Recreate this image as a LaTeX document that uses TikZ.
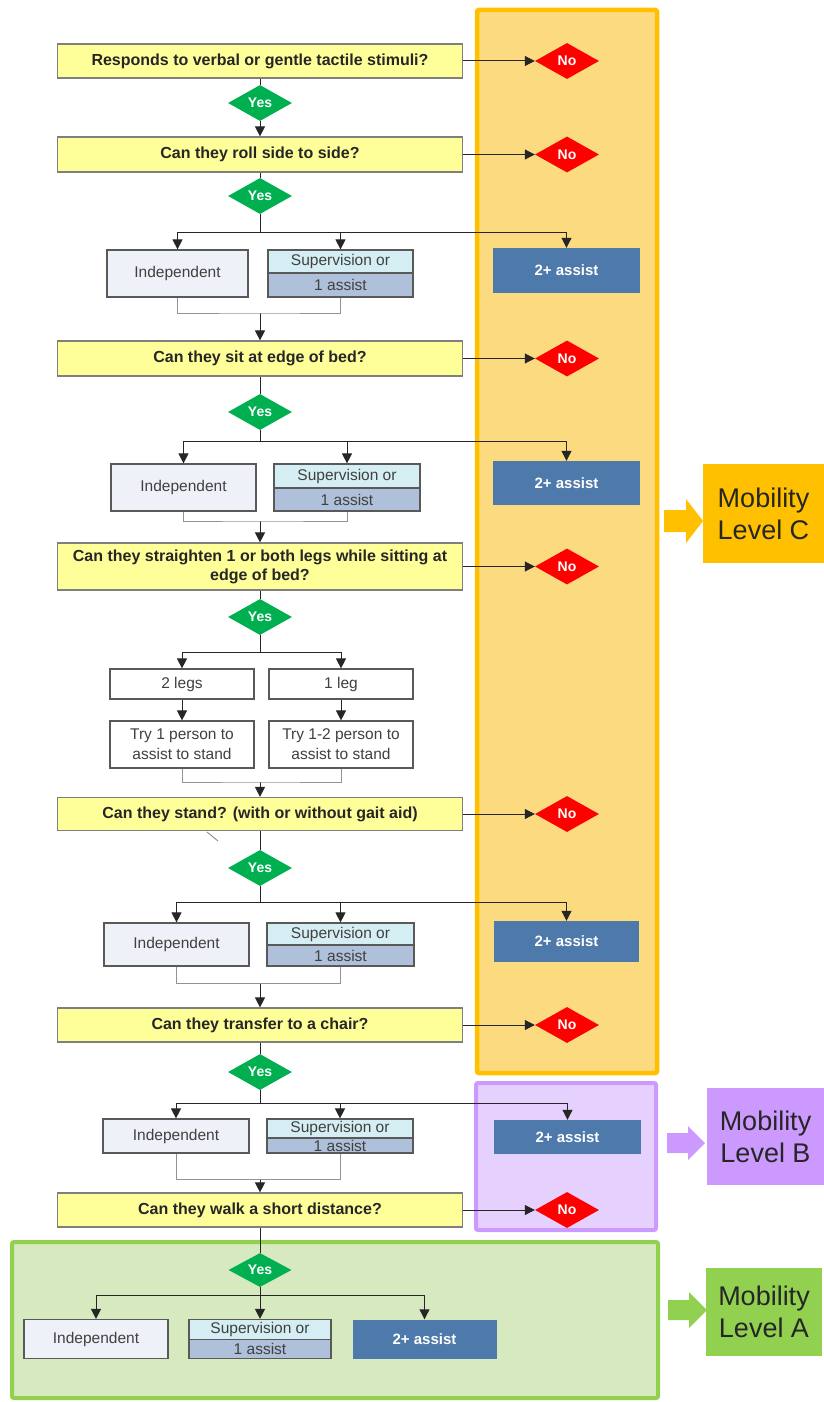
\documentclass[tikz,border=0pt]{standalone}
\usepackage{fontspec}
\setmainfont{Liberation Sans}
\usetikzlibrary{shapes.geometric,arrows.meta}
\definecolor{qfill}{HTML}{FFFF99}
\definecolor{qline}{HTML}{7F7F7F}
\definecolor{boxline}{HTML}{595959}
\definecolor{yesgreen}{HTML}{00B050}
\definecolor{nored}{HTML}{FF0000}
\definecolor{indfill}{HTML}{EEF1F7}
\definecolor{suptop}{HTML}{D5EEF3}
\definecolor{supbot}{HTML}{AFC0DA}
\definecolor{assistblue}{HTML}{4E79AB}
\definecolor{lvlC}{HTML}{FFC000}
\definecolor{lvlCfill}{HTML}{FCDA80}
\definecolor{lvlB}{HTML}{CC99FF}
\definecolor{lvlBfill}{HTML}{E6D0FE}
\definecolor{lvlA}{HTML}{92D050}
\definecolor{lvlAfill}{HTML}{D7E9BE}
\begin{document}
\begin{tikzpicture}[x=1pt,y=-1pt,
    question node/.style={rectangle,draw=qline,fill=qfill,line width=1.2pt,minimum width=405pt,minimum height=34pt,inner sep=2pt,align=center,text=black!85,font=\bfseries\fontsize{16}{19}\selectfont},
    yes node/.style={diamond,fill=yesgreen,minimum width=64pt,minimum height=36pt,inner sep=0pt,aspect=1.8,text=white,font=\bfseries\fontsize{14}{16}\selectfont},
    no node/.style={yes node,fill=nored},
    ind node/.style={rectangle,draw=boxline,fill=indfill,line width=1.2pt,minimum width=145pt,minimum height=47pt,inner sep=0pt,text=black!75,font=\fontsize{15.5}{18}\selectfont},
    sup top/.style={ind node,fill=suptop,minimum height=23pt},
    sup bottom/.style={ind node,fill=supbot,minimum height=23pt},
    leg node/.style={ind node,fill=white,align=center,font=\fontsize{15.5}{20}\selectfont},
    assist node/.style={rectangle,fill=assistblue,minimum width=147pt,minimum height=45pt,inner sep=0pt,text=white,font=\bfseries\fontsize{15}{18}\selectfont},
    level node/.style={rectangle,inner sep=0pt,align=center,text=black!85,font=\fontsize{27}{32}\selectfont},
    arr/.style={-{Triangle[length=10pt,width=10pt]},line width=1pt,color=black!85},
    link/.style={line width=1pt,color=black!85},
    merge/.style={line width=1pt,color=gray!85}
  ]
  \useasboundingbox (0,0) rectangle (824,1402);

  % level panels
  \draw[line width=4.5pt,draw=lvlC,fill=lvlCfill,rounded corners=2pt] (477,10) rectangle (657,1073);
  \draw[line width=4pt,draw=lvlB,fill=lvlBfill,rounded corners=2pt] (476,1083) rectangle (656,1230);
  \draw[line width=4pt,draw=lvlA,fill=lvlAfill,rounded corners=2pt] (12,1242) rectangle (658,1398);

  \node[level node,fill=lvlC,minimum width=121pt,minimum height=99pt] (lc) at (763.5,513.5) {Mobility\\Level C};
  \node[level node,fill=lvlB,minimum width=117pt,minimum height=97pt] (lb) at (765.5,1136.5) {Mobility\\Level B};
  \node[level node,fill=lvlA,minimum width=116pt,minimum height=88pt] (la) at (764,1312) {Mobility\\Level A};
  \fill[lvlC] (664,510) -- (686,510) -- (686,499) -- (703,521) -- (686,543) -- (686,532) -- (664,532) -- cycle;
  \fill[lvlB] (667,1133) -- (688,1133) -- (688,1126) -- (705,1143) -- (688,1160) -- (688,1153) -- (667,1153) -- cycle;
  \fill[lvlA] (668,1300) -- (689,1300) -- (689,1292) -- (707,1310) -- (689,1328) -- (689,1320) -- (668,1320) -- cycle;

  % questions
  \node[question node] (q1) at (260,61) {Responds to verbal or gentle tactile stimuli?};
  \node[question node,minimum height=35pt] (q2) at (260,154.5) {Can they roll side to side?};
  \node[question node,minimum height=35pt] (q3) at (260,358.5) {Can they sit at edge of bed?};
  \node[question node,minimum height=47pt] (q4) at (260,566.5) {Can they straighten 1 or both legs while sitting at\\edge of bed?};
  \node[question node,minimum height=33pt] (q5) at (260,814) {Can they stand? (with or without gait aid)};
  \node[question node] (q6) at (260,1025) {Can they transfer to a chair?};
  \node[question node] (q7) at (260,1210) {Can they walk a short distance?};

  \node[yes node] (y1) at (260,103) {Yes};
  \node[yes node] (y2) at (260,196) {Yes};
  \node[yes node] (y3) at (260,412) {Yes};
  \node[yes node] (y4) at (260,617) {Yes};
  \node[yes node] (y5) at (260,868) {Yes};
  \node[yes node] (y6) at (260,1072) {Yes};
  \node[yes node,minimum width=63pt,minimum height=34pt] (y7) at (260,1270) {Yes};

  \node[no node] (n1) at (567,61) {No};
  \node[no node] (n2) at (567,154.5) {No};
  \node[no node] (n3) at (567,358.5) {No};
  \node[no node] (n4) at (567,566.5) {No};
  \node[no node] (n5) at (567,814) {No};
  \node[no node] (n6) at (567,1025) {No};
  \node[no node] (n7) at (567,1210) {No};

  % answer boxes
  \node[ind node,minimum width=141pt] (i1) at (177.5,273.5) {Independent};
  \node[sup top] (s1a) at (340.5,261.5) {Supervision or};
  \node[sup bottom,minimum height=24pt] (s1b) at (340.5,285) {1 assist};
  \node[assist node] (a1) at (566.5,270.5) {2+ assist};

  \node[ind node] (i2) at (183.5,487.5) {Independent};
  \node[sup top,minimum width=146pt,minimum height=24pt] (s2a) at (347,476) {Supervision or};
  \node[sup bottom,minimum width=146pt] (s2b) at (347,499.5) {1 assist};
  \node[assist node,minimum height=44pt] (a2) at (566.5,483) {2+ assist};

  \node[leg node,minimum width=144pt,minimum height=30pt] (l2) at (182,684) {2 legs};
  \node[leg node,minimum width=144pt,minimum height=30pt] (l1) at (341,684) {1 leg};
  \node[leg node,minimum width=144pt] (t1) at (182,744.5) {Try 1 person to\\assist to stand};
  \node[leg node,minimum width=144pt] (t2) at (341,744.5) {Try 1-2 person to\\assist to stand};

  \node[ind node,minimum height=43pt] (i3) at (176.5,944.5) {Independent};
  \node[sup top,minimum width=147pt,minimum height=22pt] (s3a) at (340.5,934) {Supervision or};
  \node[sup bottom,minimum width=147pt,minimum height=21pt] (s3b) at (340.5,955.5) {1 assist};
  \node[assist node,minimum width=145pt,minimum height=41pt] (a3) at (566.5,941.5) {2+ assist};

  \node[ind node,minimum width=146pt,minimum height=34pt] (i4) at (176,1136) {Independent};
  \node[sup top,minimum width=146pt,minimum height=19pt] (s4a) at (340,1128.5) {Supervision or};
  \node[sup bottom,minimum width=146pt,minimum height=15pt] (s4b) at (340,1145.5) {1 assist};
  \node[assist node,minimum height=34pt] (a4) at (567.5,1137) {2+ assist};

  \node[ind node,minimum width=144pt,minimum height=39pt] (i5) at (96,1339) {Independent};
  \node[sup top,minimum width=142pt,minimum height=20pt] (s5a) at (260,1329.5) {Supervision or};
  \node[sup bottom,minimum width=142pt,minimum height=19pt] (s5b) at (260,1349) {1 assist};
  \node[assist node,minimum width=144pt,minimum height=39pt] (a5) at (424.5,1339) {2+ assist};

  \draw[gray,line width=0.8pt] (207,832) -- (218,841);

  % connectors
  \coordinate (b1) at (260,232);
  \coordinate (m1) at (260,313);
  \coordinate (b2) at (260,441);
  \coordinate (m2) at (260,521);
  \coordinate (b3) at (260,652);
  \coordinate (m3) at (260,782);
  \coordinate (b4) at (260,902);
  \coordinate (m4) at (260,983);
  \coordinate (b5) at (260,1103);
  \coordinate (m5) at (260,1179);
  \coordinate (b6) at (260,1295);

  \path[arr]
    (q1) edge (n1)
    (q2) edge (n2)
    (q3) edge (n3)
    (q4) edge (n4)
    (q5) edge (n5)
    (q6) edge (n6)
    (q7) edge (n7)
    (y1) edge (q2)
    (m1) edge (q3)
    (m2) edge (q4)
    (l2) edge (t1)
    (l1) edge (t2)
    (m3) edge (q5)
    (m4) edge (q6)
    (m5) edge (q7)
    (y7) edge (s5a);
  \path[link]
    (q1) edge (y1)
    (q2) edge (y2)  (y2) edge (b1)
    (q3) edge (y3)  (y3) edge (b2)
    (q4) edge (y4)  (y4) edge (b3)
    (q5) edge (y5)  (y5) edge (b4)
    (q6) edge (y6)  (y6) edge (b5)
    (q7) edge (y7);

  \draw[arr] (b1) -| (i1);
  \draw[arr] (b1) -| (s1a);
  \draw[arr] (b1) -| (a1);
  \draw[merge] (i1) |- (m1) -| (s1b);

  \draw[arr] (b2) -| (i2);
  \draw[arr] (b2) -| (s2a);
  \draw[arr] (b2) -| (a2);
  \draw[merge] (i2) |- (m2) -| (s2b);

  \draw[arr] (b3) -| (l2);
  \draw[arr] (b3) -| (l1);
  \draw[merge] (t1) |- (m3) -| (t2);

  \draw[arr] (b4) -| (i3);
  \draw[arr] (b4) -| (s3a);
  \draw[arr] (b4) -| (a3);
  \draw[merge] (i3) |- (m4) -| (s3b);

  \draw[arr] (b5) -| (i4);
  \draw[arr] (b5) -| (s4a);
  \draw[arr] (b5) -| (a4);
  \draw[merge] (i4) |- (m5) -| (s4b);

  \draw[arr] (b6) -| (i5);
  \draw[arr] (b6) -| (a5);
\end{tikzpicture}
\end{document}
